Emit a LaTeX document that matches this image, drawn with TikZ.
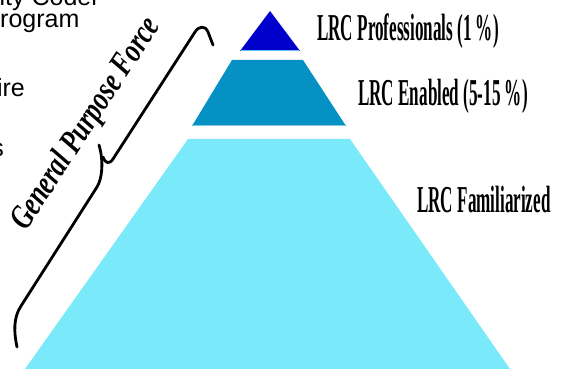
\documentclass[tikz,border=0pt]{standalone}
\usepackage{fontspec}
\setmainfont{Liberation Serif}
\newfontfamily\fragfont{Liberation Sans}
\usepackage{xcolor}
\usetikzlibrary{positioning, calc}

\definecolor{profblue}{RGB}{0,0,204}
\definecolor{enabblue}{RGB}{6,145,196}
\definecolor{famcyan}{RGB}{122,234,250}

\begin{document}
\begin{tikzpicture}[
    x=1pt, y=-1pt,
    layer/.style={draw=none},
    baseline edge/.style={line width=0.8pt},
    tierlabel/.style={inner sep=0pt, anchor=base west, font=\fontsize{38}{42}\selectfont\bfseries},
    fragment/.style={inner sep=0pt, font=\fragfont\fontsize{25}{30}\selectfont},
    bracestroke/.style={line width=2.8pt, line cap=round, line join=round},
    gpflabel/.style={inner sep=0pt, anchor=base west, rotate=56.8, font=\fontsize{34}{38}\selectfont\bfseries\itshape}
]
\useasboundingbox (0,0) rectangle (566,369);

% Cut-off text on the left
\node[fragment, anchor=base west] (frag1) at (-0.5,6) {ity Coder};
\node[fragment, anchor=base west] (frag2) at (0,28) {rogram};
\node[fragment, anchor=base east] (frag3) at (25,97) {ire};
\node[fragment, anchor=base east] (frag4) at (4,157) {s};

% Layers
\fill[layer, famcyan] (188,139) -- (350,139) -- (510,369) -- (25,369) -- cycle;
\fill[layer, enabblue] (232,60) -- (303,60) -- (346,126) -- (192,126) -- cycle;
\fill[layer, profblue] (270,11) -- (300,51) -- (240,51) -- cycle;
\draw[baseline edge, profblue!40!cyan!60] (241,50.6) -- (299,50.6);
\draw[baseline edge, enabblue!50!white] (193,125.6) -- (345,125.6);

% Labels
\node[tierlabel] (prof) at (317,41) {\scalebox{0.45}[1]{LRC Professionals (1 \%)}};
\node[tierlabel] (enab) at (358,106) {\scalebox{0.45}[1]{LRC Enabled (5-15 \%)}};
\node[tierlabel] (fam) at (417,212) {\scalebox{0.45}[1]{LRC Familiarized}};

% Brace
\draw[bracestroke] (17,347) .. controls (14,333) and (13,318) .. (21,306)
    -- (97,187) .. controls (102,179) and (104,162) .. (99,145);
\draw[bracestroke] (103,157) .. controls (105,163) and (109,165) .. (113,159)
    -- (195,32) .. controls (199,26) and (205,25) .. (208,32) -- (213,45);
\node[gpflabel] (gpf) at (26,232) {\scalebox{0.75}[1]{General Purpose Force}};

\end{tikzpicture}
\end{document}
